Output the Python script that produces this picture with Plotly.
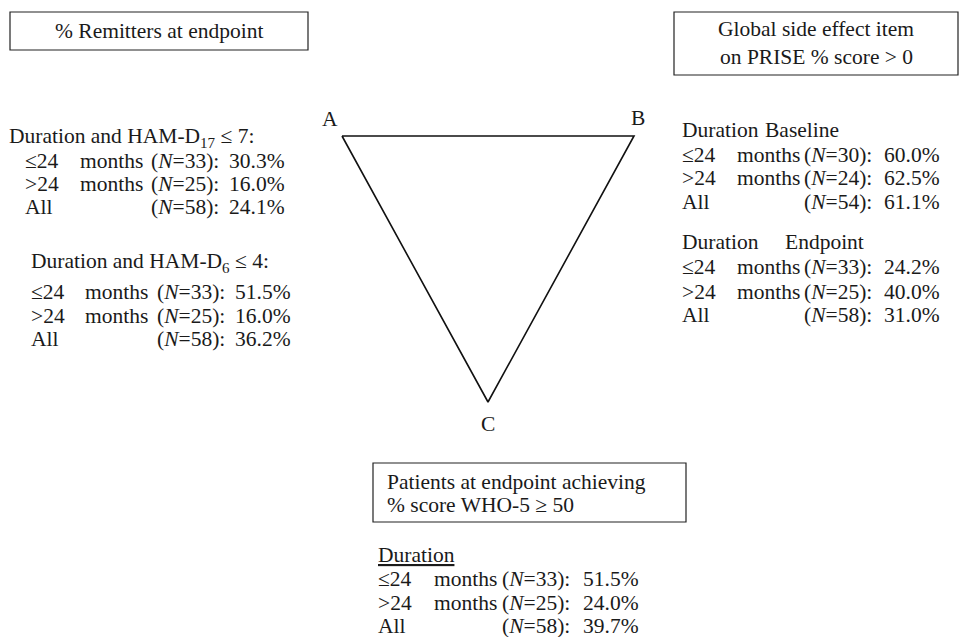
import plotly.graph_objects as go

FONT = "Liberation Serif"
FS = 21.5

# ---- data ----
rows_labels = ["\u226424", ">24", "All"]
ham17_n = [33, 25, 58]
ham17_pct = [30.3, 16.0, 24.1]
ham6_n = [33, 25, 58]
ham6_pct = [51.5, 16.0, 36.2]
prise_base_n = [30, 24, 54]
prise_base_pct = [60.0, 62.5, 61.1]
prise_end_n = [33, 25, 58]
prise_end_pct = [24.2, 40.0, 31.0]
who_n = [33, 25, 58]
who_pct = [51.5, 24.0, 39.7]
vertex_labels = ["A", "B", "C"]

# layout (pixel space)
tri_x = [342, 634, 488]
tri_y = [136, 136, 402]

fig = go.Figure()
fig.add_trace(go.Scatter(x=tri_x + [tri_x[0]], y=tri_y + [tri_y[0]], mode="lines",
                         line=dict(color="#111111", width=1.6), hoverinfo="skip", showlegend=False))

ann = []
def txt(x, y, s, anchor="left"):
    ann.append(dict(x=x, y=y, xref="x", yref="y", text=s, showarrow=False,
                    xanchor=anchor, yanchor="middle",
                    font=dict(family=FONT, size=FS, color="#1a1a1a")))

def group(x_lab, x_mon, x_n, x_pct, ys, ns, pcts):
    for i, (lab, n, p) in enumerate(zip(rows_labels, ns, pcts)):
        txt(x_lab, ys[i], lab)
        if lab != "All":
            txt(x_mon, ys[i], "months")
        txt(x_n, ys[i], "(<i>N</i>=%d):" % n, anchor="right")
        txt(x_pct, ys[i], "%.1f%%" % p)

# vertex labels
txt(330, 119, vertex_labels[0], "center")
txt(638, 118, vertex_labels[1], "center")
txt(488, 424, vertex_labels[2], "center")

# boxes
shapes = []
def box(x0, y0, x1, y1):
    shapes.append(dict(type="rect", xref="x", yref="y", x0=x0, y0=y0, x1=x1, y1=y1,
                       line=dict(color="#222222", width=1.2), fillcolor="rgba(0,0,0,0)"))

box(10, 12, 308, 50)
txt(159, 31, "% Remitters at endpoint", "center")

box(674, 12, 958, 75)
txt(816, 29, "Global side effect item", "center")
txt(816, 57, "on PRISE % score > 0", "center")

box(373, 463, 686, 522)
txt(385, 482, "Patients at endpoint achieving")
txt(385, 505, "% score WHO-5 \u2265 50")

# left groups
txt(7, 137, "Duration and HAM-D<sub>17</sub> \u2264 7:")
group(23, 78, 221, 227, [161, 184, 207], ham17_n, ham17_pct)
txt(29, 262, "Duration and HAM-D<sub>6</sub> \u2264 4:")
group(29, 83, 227, 233, [292, 316, 339], ham6_n, ham6_pct)

# right groups
txt(680, 130, "Duration")
txt(763, 130, "Baseline")
group(680, 735, 874, 882, [155, 178, 202], prise_base_n, prise_base_pct)
txt(680, 242, "Duration")
txt(783, 242, "Endpoint")
group(680, 735, 874, 882, [267, 292, 315], prise_end_n, prise_end_pct)

# bottom group
txt(376, 555, "<u>Duration</u>")
group(376, 432, 572, 581, [579, 603, 626], who_n, who_pct)

fig.update_layout(
    width=963, height=637, margin=dict(l=0, r=0, t=0, b=0),
    paper_bgcolor="white", plot_bgcolor="white",
    xaxis=dict(range=[0, 963], visible=False, fixedrange=True),
    yaxis=dict(range=[637, 0], visible=False, fixedrange=True),
    annotations=ann, shapes=shapes, showlegend=False,
)
fig.write_html("out.html", config={"displayModeBar": False},
               post_script="document.body.style.margin='0';document.body.style.overflow='hidden';")
